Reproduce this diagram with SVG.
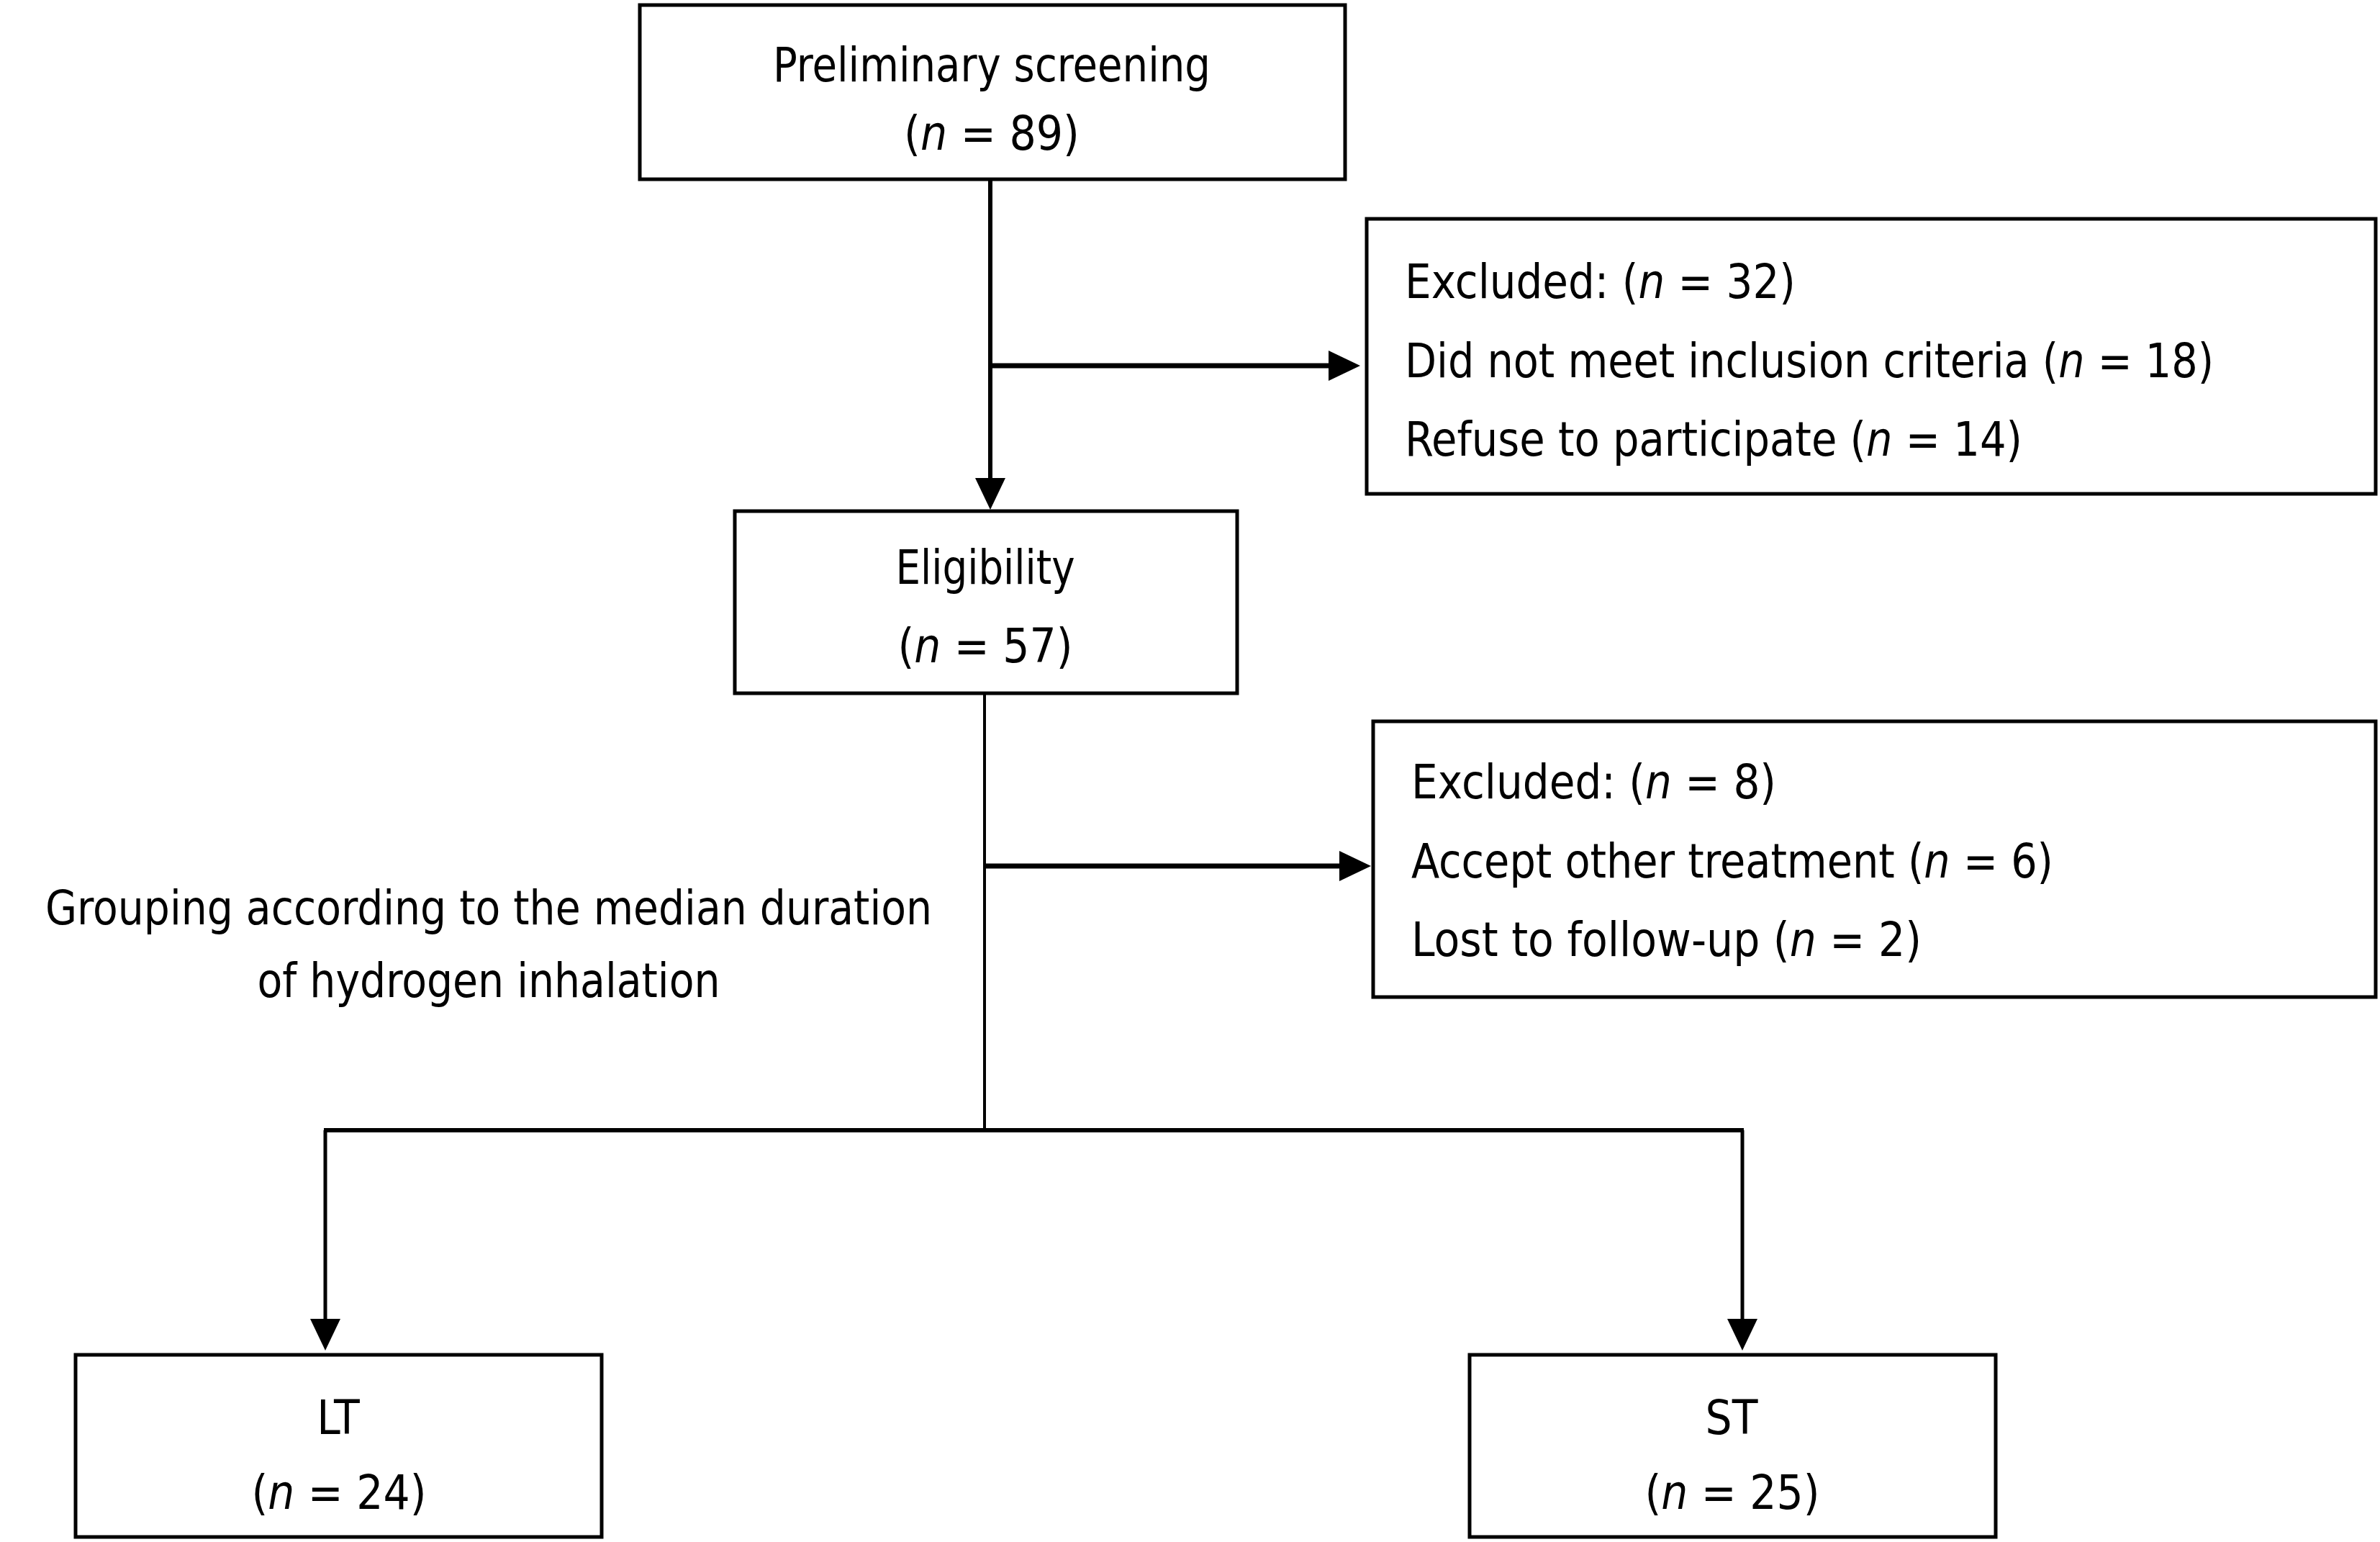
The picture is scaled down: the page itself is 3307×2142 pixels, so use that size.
<svg xmlns="http://www.w3.org/2000/svg" width="3307" height="2142" viewBox="0 0 3307 2142">
<style>
.box{fill:#fff;stroke:#000;stroke-width:5}
.t{font-family:"DejaVu Sans Condensed","DejaVu Sans",sans-serif;font-stretch:condensed;font-size:65px;fill:#000}
.c{text-anchor:middle}
.i{font-style:italic}
.ln{fill:none;stroke:#000;stroke-linecap:butt}
</style>
<defs>
<marker id="ah" markerUnits="userSpaceOnUse" markerWidth="44" markerHeight="42" refX="0" refY="21" orient="auto" overflow="visible">
<path d="M0,0 L44,21 L0,42 z" fill="#000"/>
</marker>
</defs>
<rect width="3307" height="2142" fill="#fff"/>
<g id="connectors">
<line class="ln" x1="1376" y1="249" x2="1376" y2="664" stroke-width="6" marker-end="url(#ah)"/>
<line class="ln" x1="1373" y1="508" x2="1846" y2="508" stroke-width="7" marker-end="url(#ah)"/>
<line class="ln" x1="1368" y1="964" x2="1368" y2="1572" stroke-width="4"/>
<line class="ln" x1="1368" y1="1203" x2="1861" y2="1203" stroke-width="7" marker-end="url(#ah)"/>
<line class="ln" x1="450" y1="1570" x2="2423" y2="1570" stroke-width="6"/>
<line class="ln" x1="452" y1="1570" x2="452" y2="1832" stroke-width="5" marker-end="url(#ah)"/>
<line class="ln" x1="2421" y1="1570" x2="2421" y2="1832" stroke-width="5" marker-end="url(#ah)"/>
</g>
<g id="node-preliminary">
<rect class="box" x="889" y="7" width="980" height="242"/>
<text class="t c" x="1378" y="113" textLength="608" lengthAdjust="spacingAndGlyphs">Preliminary screening</text>
<text class="t c" x="1378" y="208" textLength="244" lengthAdjust="spacingAndGlyphs">(<tspan class="i">n</tspan> = 89)</text>
</g>
<g id="node-excluded1">
<rect class="box" x="1899" y="304" width="1402" height="382"/>
<text class="t" x="1952" y="414" textLength="543" lengthAdjust="spacingAndGlyphs">Excluded: (<tspan class="i">n</tspan> = 32)</text>
<text class="t" x="1952" y="524" textLength="1124" lengthAdjust="spacingAndGlyphs">Did not meet inclusion criteria (<tspan class="i">n</tspan> = 18)</text>
<text class="t" x="1952" y="633" textLength="858" lengthAdjust="spacingAndGlyphs">Refuse to participate (<tspan class="i">n</tspan> = 14)</text>
</g>
<g id="node-eligibility">
<rect class="box" x="1021" y="710" width="698" height="253"/>
<text class="t c" x="1369" y="811" textLength="249" lengthAdjust="spacingAndGlyphs">Eligibility</text>
<text class="t c" x="1369" y="920" textLength="243" lengthAdjust="spacingAndGlyphs">(<tspan class="i">n</tspan> = 57)</text>
</g>
<g id="node-excluded2">
<rect class="box" x="1908" y="1002" width="1393" height="383"/>
<text class="t" x="1961" y="1109" textLength="507" lengthAdjust="spacingAndGlyphs">Excluded: (<tspan class="i">n</tspan> = 8)</text>
<text class="t" x="1961" y="1219" textLength="892" lengthAdjust="spacingAndGlyphs">Accept other treatment (<tspan class="i">n</tspan> = 6)</text>
<text class="t" x="1961" y="1328" textLength="709" lengthAdjust="spacingAndGlyphs">Lost to follow-up (<tspan class="i">n</tspan> = 2)</text>
</g>
<g id="label-grouping">
<text class="t c" x="679" y="1284" textLength="1232" lengthAdjust="spacingAndGlyphs">Grouping according to the median duration</text>
<text class="t c" x="679" y="1385" textLength="643" lengthAdjust="spacingAndGlyphs">of hydrogen inhalation</text>
</g>
<g id="node-lt">
<rect class="box" x="105" y="1882" width="731" height="253"/>
<text class="t c" x="470" y="1992">LT</text>
<text class="t c" x="471" y="2096" textLength="243" lengthAdjust="spacingAndGlyphs">(<tspan class="i">n</tspan> = 24)</text>
</g>
<g id="node-st">
<rect class="box" x="2042" y="1882" width="731" height="253"/>
<text class="t c" x="2406" y="1992">ST</text>
<text class="t c" x="2407" y="2096" textLength="243" lengthAdjust="spacingAndGlyphs">(<tspan class="i">n</tspan> = 25)</text>
</g>
</svg>
